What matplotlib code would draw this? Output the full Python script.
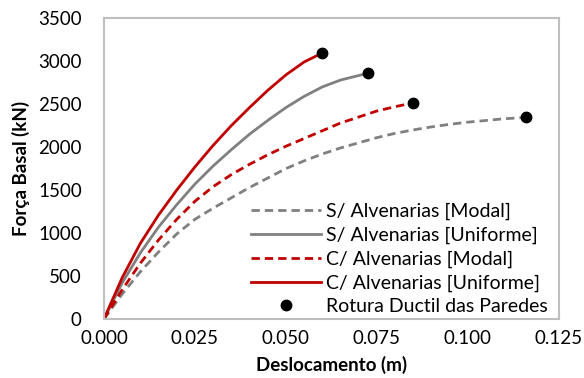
import matplotlib
matplotlib.use("Agg")
import matplotlib.pyplot as plt

plt.rcParams['font.family'] = ['Lato', 'DejaVu Sans']

# curvas de capacidade (deslocamento em m, forca basal em kN)
x_su = [0, 0.005, 0.01, 0.015, 0.02, 0.025, 0.03, 0.035, 0.04, 0.045, 0.05, 0.055, 0.06, 0.065, 0.0726]
f_su = [0, 420, 770, 1070, 1330, 1570, 1780, 1970, 2150, 2310, 2460, 2590, 2700, 2780, 2860]

x_cu = [0, 0.005, 0.01, 0.015, 0.02, 0.025, 0.03, 0.035, 0.04, 0.045, 0.05, 0.055, 0.06]
f_cu = [0, 480, 880, 1210, 1500, 1770, 2020, 2250, 2460, 2660, 2840, 2990, 3095]

x_sm = [0, 0.005, 0.01, 0.015, 0.02, 0.025, 0.03, 0.035, 0.04, 0.045, 0.05, 0.055, 0.06,
        0.065, 0.07, 0.075, 0.08, 0.085, 0.09, 0.095, 0.1, 0.105, 0.11, 0.116]
f_sm = [0, 290, 550, 780, 990, 1160, 1290, 1410, 1530, 1640, 1750, 1840, 1920,
        1990, 2050, 2110, 2160, 2200, 2235, 2265, 2290, 2310, 2330, 2345]

x_cm = [0, 0.005, 0.01, 0.015, 0.02, 0.025, 0.03, 0.035, 0.04, 0.045, 0.05, 0.055, 0.06,
        0.065, 0.07, 0.075, 0.08, 0.085]
f_cm = [0, 340, 650, 920, 1160, 1370, 1540, 1680, 1800, 1910, 2010, 2100, 2190,
        2280, 2350, 2420, 2470, 2515]

# pontos de rotura
x_rot = [0.116, 0.0726, 0.085, 0.060]
f_rot = [2345, 2860, 2515, 3095]

cinza = '#808080'
verm = '#C00000'

fig = plt.figure(figsize=(5.84, 3.78), dpi=100)
ax = fig.add_axes([0.178, 0.156, 0.779, 0.796])

ax.plot(x_sm, f_sm, color=cinza, lw=2, ls=(0, (3, 1.8)), label='S/ Alvenarias [Modal]')
ax.plot(x_su, f_su, color=cinza, lw=2, label='S/ Alvenarias [Uniforme]')
ax.plot(x_cm, f_cm, color=verm, lw=2, ls=(0, (3, 1.8)), label='C/ Alvenarias [Modal]')
ax.plot(x_cu, f_cu, color=verm, lw=2, label='C/ Alvenarias [Uniforme]')
ax.plot(x_rot, f_rot, 'o', color='black', ms=7.5, ls='none', label='Rotura Ductil das Paredes', zorder=5)

ax.set_xlim(0, 0.125)
ax.set_ylim(0, 3500)
ax.set_xticks([0, 0.025, 0.05, 0.075, 0.1, 0.125])
ax.set_xticklabels(['0.000', '0.025', '0.050', '0.075', '0.100', '0.125'])
ax.set_yticks(range(0, 3501, 500))
ax.tick_params(length=0, labelsize=13.5)
ax.tick_params(axis='x', pad=8)
ax.tick_params(axis='y', pad=16)
for s in ax.spines.values():
    s.set_color('#BFBFBF')
    s.set_linewidth(1.5)

ax.set_xlabel('Deslocamento (m)', fontsize=13.5, fontweight='bold', labelpad=6)
ax.set_ylabel('Força Basal (kN)', fontsize=13.5, fontweight='bold', labelpad=6)

ax.legend(loc='lower right', bbox_to_anchor=(0.985, 0.0), frameon=False, fontsize=14,
          handlelength=3.6, handletextpad=0.3, labelspacing=0.33, borderaxespad=0.0,
          borderpad=0.2)

fig.savefig('out.png', dpi=100)
